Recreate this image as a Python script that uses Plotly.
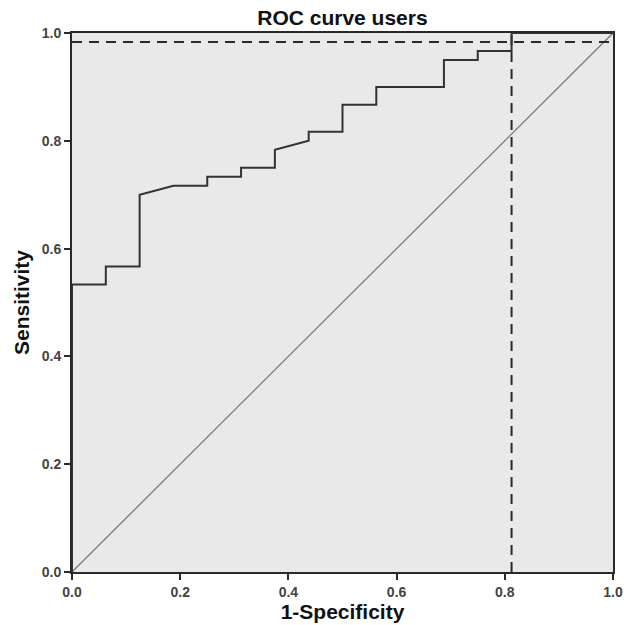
import plotly.graph_objects as go

# ROC curve data (1-Specificity, Sensitivity)
fpr = [0.0, 0.0, 0.0625, 0.0625, 0.125, 0.125, 0.1875, 0.25, 0.25, 0.3125, 0.3125,
       0.375, 0.375, 0.4375, 0.4375, 0.5, 0.5, 0.5625, 0.5625, 0.6875, 0.6875,
       0.75, 0.75, 0.8125, 0.8125, 1.0]
tpr = [0.0, 0.5333, 0.5333, 0.5667, 0.5667, 0.7, 0.7167, 0.7167, 0.7333, 0.7333, 0.75,
       0.75, 0.7833, 0.8, 0.8167, 0.8167, 0.8667, 0.8667, 0.9, 0.9, 0.95,
       0.95, 0.9667, 0.9667, 1.0, 1.0]

ref_x = [0.0, 1.0]
ref_y = [0.0, 1.0]

cutoff_fpr = 0.8125
cutoff_tpr = 0.9833

tick_vals = [0.0, 0.2, 0.4, 0.6, 0.8, 1.0]
tick_text = ["0.0", "0.2", "0.4", "0.6", "0.8", "1.0"]

FONT = "Liberation Sans, Arial, Helvetica, sans-serif"

fig = go.Figure()

fig.add_trace(go.Scatter(x=ref_x, y=ref_y, mode="lines",
                         line=dict(color="#7a7a7a", width=1.3), showlegend=False, hoverinfo="skip"))
fig.add_trace(go.Scatter(x=[0.0, 1.0], y=[cutoff_tpr, cutoff_tpr], mode="lines",
                         line=dict(color="#2a2a2a", width=2, dash="10px,7px"), showlegend=False))
fig.add_trace(go.Scatter(x=[cutoff_fpr, cutoff_fpr], y=[0.0, 1.0], mode="lines",
                         line=dict(color="#2a2a2a", width=2, dash="10px,7px"), showlegend=False))
fig.add_trace(go.Scatter(x=fpr, y=tpr, mode="lines",
                         line=dict(color="#333333", width=2), showlegend=False))

axis_common = dict(
    range=[0, 1], tickvals=tick_vals, ticktext=tick_text,
    showgrid=False, zeroline=False, automargin=False,
    showline=True, linecolor="#2a2a2a", linewidth=2, mirror=True,
    ticks="outside", ticklen=6, tickwidth=2, tickcolor="#2a2a2a",
    tickfont=dict(family=FONT, size=14, color="#444444", weight="bold"),
)

fig.update_layout(
    width=624, height=625,
    margin=dict(l=72, r=11, t=33, b=53),
    paper_bgcolor="white",
    plot_bgcolor="#e9e9e9",
    title=dict(text="ROC curve users", x=0.5488, xanchor="center", y=0.971, yanchor="middle",
               font=dict(family=FONT, size=21, color="#111111", weight="bold")),
    xaxis=dict(**axis_common,
               title=dict(text="1-Specificity", standoff=0,
                          font=dict(family=FONT, size=21, color="#111111", weight="bold"))),
    yaxis=dict(**axis_common,
               title=dict(text="Sensitivity", standoff=6,
                          font=dict(family=FONT, size=21, color="#111111", weight="bold"))),
)

fig.write_html("out.html", config={"displayModeBar": False},
               post_script="document.body.style.margin='0';")
